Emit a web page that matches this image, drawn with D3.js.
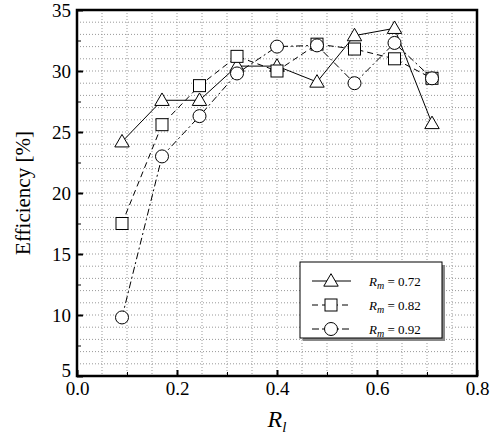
<!DOCTYPE html><html><head><script src="https://cdn.jsdelivr.net/npm/d3@7"></script>
<style>body{margin:0;background:#fff}</style></head><body>
<svg id="c" width="492" height="442"></svg>
<script>
const xs=[0.09,0.17,0.245,0.32,0.40,0.48,0.555,0.635,0.71];
const r072=[24.2,27.6,27.6,30.4,30.4,29.1,32.9,33.5,25.7];
const r082=[17.5,25.6,28.8,31.2,30.0,32.2,31.8,31.0,29.4];
const r092=[9.8,23.0,26.3,29.8,32.0,32.1,29.0,32.3,29.4];
const labels=["0.72","0.82","0.92"];
const xTicks=[0,0.2,0.4,0.6,0.8], yTicks=[5,10,15,20,25,30,35];
const FF="'Liberation Serif','DejaVu Serif',serif";
const svg=d3.select("#c");
const L=77,R=477,T=10,B=376;
const x=d3.scaleLinear().domain([0,0.8]).range([L,R]);
const y=d3.scaleLinear().domain([5,35]).range([B,T]);
const g=svg.append("g");
d3.range(0.05,0.8,0.05).forEach(v=>g.append("line").attr("x1",x(v)).attr("x2",x(v)).attr("y1",T).attr("y2",B).attr("stroke","#999").attr("stroke-dasharray","1,2"));
d3.range(6,35,1).forEach(v=>g.append("line").attr("y1",y(v)).attr("y2",y(v)).attr("x1",L).attr("x2",R).attr("stroke","#999").attr("stroke-dasharray","1,2"));
svg.append("g").attr("transform",`translate(0,${B})`).call(d3.axisBottom(x).tickValues(xTicks).tickFormat(d3.format(".1f")).tickSizeInner(-6).tickSizeOuter(0).tickPadding(6)).call(a=>{a.select(".domain").remove();a.selectAll("line").attr("stroke-width",2);a.selectAll("text").attr("font-size",19).attr("font-family",FF).attr("fill","#000")});
svg.append("g").attr("transform",`translate(${L},0)`).call(d3.axisLeft(y).tickValues(yTicks).tickSizeInner(-6).tickSizeOuter(0).tickPadding(6)).call(a=>{a.select(".domain").remove();a.selectAll("line").attr("stroke-width",2);a.selectAll("text").attr("font-size",19).attr("font-family",FF).attr("fill","#000").attr("dy",(d)=>d==5?"0.0em":"0.32em")});
svg.append("g").attr("transform",`translate(0,${B})`).call(d3.axisBottom(x).tickValues(d3.range(0.1,0.8,0.2)).tickSize(-4).tickFormat("")).select(".domain").remove();
svg.append("g").attr("transform",`translate(${L},0)`).call(d3.axisLeft(y).tickValues(d3.range(7.5,35,5)).tickSize(-4).tickFormat("")).select(".domain").remove();
svg.append("rect").attr("x",L).attr("y",T).attr("width",R-L).attr("height",B-T).attr("fill","none").attr("stroke","#000").attr("stroke-width",2.5);
const series=[{d:r072,dash:null,m:"tri"},{d:r082,dash:"6,4",m:"sq"},{d:r092,dash:"7,3,2,3",m:"ci"}];
function marker(sel,m,cx,cy){
 if(m=="tri") sel.append("path").attr("d",d3.symbol(d3.symbolTriangle,90)()).attr("transform",`translate(${cx},${cy+1})`).attr("fill","#fff").attr("stroke","#000");
 else if(m=="sq") sel.append("rect").attr("x",cx-6).attr("y",cy-6).attr("width",12).attr("height",12).attr("fill","#fff").attr("stroke","#000");
 else sel.append("circle").attr("cx",cx).attr("cy",cy).attr("r",6.5).attr("fill","#fff").attr("stroke","#000");
}
const line=d3.line().x((d,i)=>x(xs[i])).y(d=>y(d));
series.forEach(s=>{
 svg.append("path").attr("d",line(s.d)).attr("fill","none").attr("stroke","#000").attr("stroke-width",1).attr("stroke-dasharray",s.dash);
 s.d.forEach((v,i)=>marker(svg,s.m,x(xs[i]),y(v)));
});
const lg=svg.append("g");
lg.append("rect").attr("x",303).attr("y",265).attr("width",142).attr("height",76).attr("fill","#888");
lg.append("rect").attr("x",300).attr("y",262).attr("width",142).attr("height",76).attr("fill","#fff").attr("stroke","#000");
series.forEach((s,i)=>{const yy=281+i*24;
 lg.append("line").attr("x1",312).attr("x2",351).attr("y1",yy).attr("y2",yy).attr("stroke","#000").attr("stroke-dasharray",s.dash);
 marker(lg,s.m,331,yy);
 const t=lg.append("text").attr("x",369).attr("y",yy+5).attr("font-size",13).attr("font-family",FF);
 t.append("tspan").attr("font-style","italic").text("R");
 t.append("tspan").attr("font-style","italic").attr("font-size",10).attr("dy",3).text("m");
 t.append("tspan").attr("dy",-3).text(" = "+labels[i]);
});
svg.append("text").attr("transform","translate(30,193) rotate(-90)").attr("text-anchor","middle").attr("font-size",21).attr("font-family",FF).text("Efficiency [%]");
const xl=svg.append("text").attr("x",277).attr("y",427).attr("text-anchor","middle").attr("font-size",24).attr("font-style","italic").attr("font-family",FF);
xl.append("tspan").text("R");xl.append("tspan").attr("font-size",15).attr("dy",5).text("l");
</script></body></html>
